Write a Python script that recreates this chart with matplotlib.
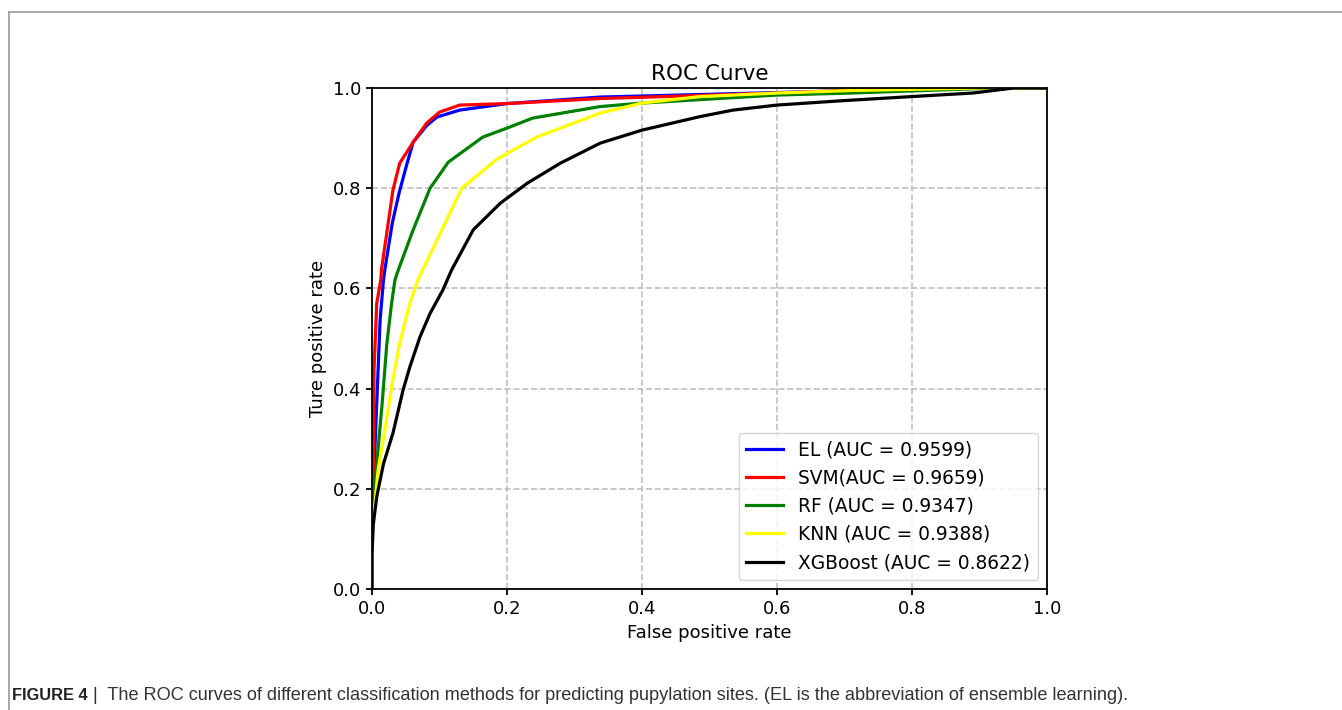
import matplotlib
matplotlib.use("Agg")
import matplotlib.pyplot as plt
from matplotlib.lines import Line2D

### ROC points
el_fpr = [0, 0, 0.004, 0.009, 0.012, 0.017, 0.019, 0.030, 0.040, 0.052, 0.061, 0.081, 0.096, 0.13, 0.2, 0.338, 0.6, 0.708, 0.85, 1.0]
el_tpr = [0, 0.15, 0.27, 0.437, 0.537, 0.617, 0.637, 0.730, 0.790, 0.85, 0.892, 0.925, 0.942, 0.956, 0.969, 0.982, 0.991, 0.995, 1.0, 1.0]

svm_fpr = [0, 0, 0.002, 0.003, 0.007, 0.013, 0.014, 0.031, 0.041, 0.061, 0.081, 0.1, 0.13, 0.2, 0.338, 0.6, 0.708, 0.85, 1.0]
svm_tpr = [0, 0.17, 0.24, 0.437, 0.57, 0.617, 0.637, 0.796, 0.85, 0.892, 0.93, 0.952, 0.966, 0.969, 0.979, 0.99, 0.995, 1.0, 1.0]

rf_fpr = [0, 0, 0.003, 0.007, 0.015, 0.022, 0.029, 0.034, 0.039, 0.061, 0.086, 0.113, 0.164, 0.2, 0.238, 0.338, 0.4, 0.6, 0.708, 0.925, 1.0]
rf_tpr = [0, 0.15, 0.18, 0.25, 0.37, 0.49, 0.57, 0.617, 0.637, 0.717, 0.80, 0.852, 0.902, 0.92, 0.94, 0.963, 0.97, 0.986, 0.99, 1.0, 1.0]

knn_fpr = [0, 0, 0.003, 0.009, 0.019, 0.029, 0.041, 0.056, 0.068, 0.133, 0.185, 0.244, 0.338, 0.4, 0.486, 0.6, 0.708, 0.9, 1.0]
knn_tpr = [0, 0.12, 0.152, 0.237, 0.317, 0.404, 0.49, 0.57, 0.617, 0.80, 0.858, 0.902, 0.95, 0.97, 0.983, 0.99, 0.995, 1.0, 1.0]

xgb_fpr = [0, 0, 0.002, 0.007, 0.017, 0.031, 0.046, 0.056, 0.071, 0.086, 0.105, 0.118, 0.15, 0.19, 0.23, 0.279, 0.338, 0.4, 0.486, 0.535, 0.6, 0.7, 0.8, 0.89, 0.95, 1.0]
xgb_tpr = [0, 0.07, 0.13, 0.184, 0.25, 0.311, 0.397, 0.443, 0.503, 0.55, 0.597, 0.637, 0.717, 0.77, 0.81, 0.85, 0.89, 0.916, 0.943, 0.956, 0.966, 0.975, 0.983, 0.99, 1.0, 1.0]

labels = ["EL (AUC = 0.9599)", "SVM(AUC = 0.9659)", "RF (AUC = 0.9347)",
          "KNN (AUC = 0.9388)", "XGBoost (AUC = 0.8622)"]
colors = ["blue", "red", "green", "yellow", "black"]
curves = [(el_fpr, el_tpr), (svm_fpr, svm_tpr), (rf_fpr, rf_tpr),
          (knn_fpr, knn_tpr), (xgb_fpr, xgb_tpr)]

fig = plt.figure(figsize=(13.42, 7.10), dpi=100)
ax = fig.add_axes([0.2772, 0.1704, 0.503, 0.7056])

for (fx, ty), lab, c in zip(curves, labels, colors):
    ax.plot(fx, ty, color=c, lw=2.3, label=lab)

ax.set_xlim(0, 1)
ax.set_ylim(0, 1)
ax.grid(True, linestyle="--", color="#bfbfbf", lw=1.2)
ax.set_axisbelow(True)
ax.tick_params(labelsize=13, width=1.3, length=4.5)
for sp in ax.spines.values():
    sp.set_linewidth(1.3)
ax.set_xlabel("False positive rate", fontsize=13)
ax.set_ylabel("Ture positive rate", fontsize=13)
ax.set_title("ROC Curve", fontsize=15.5)
ax.legend(loc="lower right", fontsize=13.4, handlelength=2.0)

# page frame lines (top and left)
fig.add_artist(Line2D([9 / 1342, 1], [1 - 12 / 710, 1 - 12 / 710], transform=fig.transFigure, color="#999999", lw=1.2))
fig.add_artist(Line2D([9 / 1342, 9 / 1342], [0, 1 - 12 / 710], transform=fig.transFigure, color="#999999", lw=1.2))

# caption
fig.text(12 / 1342, 1 - 696 / 710, "FIGURE 4", fontsize=11.8, fontweight="bold",
         family="Liberation Sans", color="#222222", va="center")
fig.text(93 / 1342, 1 - 696 / 710,
         "|  The ROC curves of different classification methods for predicting pupylation sites. (EL is the abbreviation of ensemble learning).",
         fontsize=13.1, family="Liberation Sans", color="#333333", va="center")

fig.savefig("out.png", dpi=100)
